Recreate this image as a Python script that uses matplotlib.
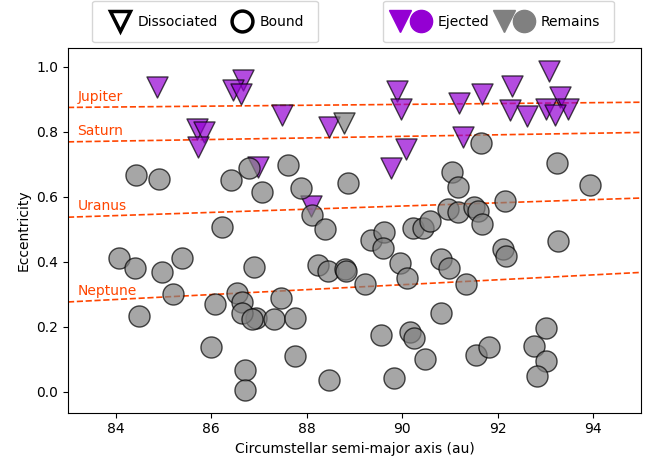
import matplotlib
matplotlib.use("Agg")
import matplotlib.pyplot as plt
from matplotlib.lines import Line2D
from matplotlib.legend_handler import HandlerTuple

# Dissociated systems whose planet was ejected (semi-major axis in au, eccentricity)
ejected_a = [84.87, 86.67, 86.46, 86.62, 85.70, 85.85, 85.72, 86.97, 87.48, 88.46,
             88.08, 89.90, 89.98, 90.08, 89.76, 91.18, 91.68, 92.29, 93.08, 91.28,
             92.26, 92.62, 93.30, 93.01, 93.48, 93.19]
ejected_e = [0.937, 0.958, 0.928, 0.917, 0.809, 0.798, 0.754, 0.693, 0.852, 0.816,
             0.570, 0.927, 0.870, 0.747, 0.687, 0.889, 0.917, 0.940, 0.986, 0.783,
             0.867, 0.850, 0.906, 0.870, 0.870, 0.852]

# Dissociated systems whose planet remains
remain_diss_a = [88.79]
remain_diss_e = [0.827]

# Bound systems whose planet remains
bound_a = [84.42, 84.90, 86.42, 86.79, 87.06, 86.23, 87.60, 87.87, 88.86, 88.10,
           88.39, 91.04, 91.65, 91.16, 93.25, 93.93, 92.15, 90.96, 91.16, 91.51,
           91.58, 91.68, 89.35, 89.62, 89.59, 90.22, 90.43, 90.58, 89.96, 90.09,
           90.82, 90.97, 88.23, 88.44, 88.81, 88.83, 89.22, 87.46, 86.94, 87.32,
           87.76, 87.76, 88.46, 89.55, 90.16, 90.24, 90.48, 89.83, 93.26, 92.10,
           92.17, 91.33, 90.82, 93.02, 92.76, 93.01, 92.83, 91.54, 91.81, 84.07,
           84.40, 84.96, 85.38, 85.20, 84.49, 86.08, 86.53, 86.64, 86.64, 86.85,
           86.00, 86.71, 86.71, 86.90]
bound_e = [0.667, 0.654, 0.651, 0.687, 0.615, 0.507, 0.698, 0.628, 0.641, 0.543,
           0.502, 0.677, 0.764, 0.631, 0.705, 0.636, 0.586, 0.563, 0.553, 0.567,
           0.557, 0.515, 0.466, 0.492, 0.441, 0.505, 0.505, 0.525, 0.397, 0.350,
           0.409, 0.381, 0.389, 0.371, 0.378, 0.371, 0.331, 0.289, 0.227, 0.224,
           0.226, 0.111, 0.036, 0.173, 0.184, 0.164, 0.100, 0.043, 0.464, 0.440,
           0.417, 0.332, 0.242, 0.196, 0.140, 0.093, 0.047, 0.114, 0.137, 0.411,
           0.381, 0.368, 0.411, 0.301, 0.232, 0.271, 0.303, 0.276, 0.243, 0.224,
           0.137, 0.068, 0.006, 0.384]

# Critical eccentricity lines for each giant planet
planet_names = ["Jupiter", "Saturn", "Uranus", "Neptune"]
line_a = [83.0, 95.0]
planet_line_e = [[0.875, 0.891], [0.769, 0.798], [0.537, 0.596], [0.276, 0.367]]
label_a = 83.2
label_e = [0.907, 0.802, 0.571, 0.309]

line_color = "orangered"
purple = "darkviolet"
grey = "grey"

fig = plt.figure(figsize=(6.56, 4.61), dpi=100)
ax = fig.add_axes([68 / 656, 48.3 / 461, 573 / 656, 364.7 / 461])

for name, ev, ly in zip(planet_names, planet_line_e, label_e):
    ax.plot(line_a, ev, ls="--", color=line_color, lw=1.2, zorder=1)
    ax.text(label_a, ly, name, color=line_color, fontsize=10, va="center", ha="left")

size = 230
ax.scatter(ejected_a, ejected_e, s=size, marker="v", c=purple, alpha=0.7,
           edgecolors="k", linewidths=1, zorder=2)
ax.scatter(remain_diss_a, remain_diss_e, s=size, marker="v", c=grey, alpha=0.7,
           edgecolors="k", linewidths=1, zorder=2)
ax.scatter(bound_a, bound_e, s=size, marker="o", c=grey, alpha=0.7,
           edgecolors="k", linewidths=1, zorder=3)

ax.set_xlim(83, 95)
ax.set_ylim(-0.065, 1.058)
ax.set_xlabel("Circumstellar semi-major axis (au)")
ax.set_ylabel("Eccentricity")

# Legend for the state of the binary
h_diss = Line2D([], [], marker="v", ls="none", mfc="none", mec="k", mew=2.5, ms=15)
h_bound = Line2D([], [], marker="o", ls="none", mfc="none", mec="k", mew=2.5, ms=15)
leg1 = ax.legend([h_diss, h_bound], ["Dissociated", "Bound"], ncol=2,
                 loc="lower center", bbox_to_anchor=(0.239, 1.0),
                 borderpad=1.0, handlelength=2.0, handletextpad=0.3,
                 columnspacing=0.7, borderaxespad=0.4)
ax.add_artist(leg1)

# Legend for the fate of the planet
ej_tri = Line2D([], [], marker="v", ls="none", color=purple, ms=16)
ej_circ = Line2D([], [], marker="o", ls="none", color=purple, ms=16)
re_tri = Line2D([], [], marker="v", ls="none", color=grey, ms=16)
re_circ = Line2D([], [], marker="o", ls="none", color=grey, ms=16)
ax.legend([(ej_tri, ej_circ), (re_tri, re_circ)], ["Ejected", "Remains"], ncol=2,
          loc="lower center", bbox_to_anchor=(0.751, 1.0),
          handler_map={tuple: HandlerTuple(ndivide=None)},
          borderpad=1.0, handlelength=2.0, handletextpad=0.9,
          columnspacing=0.8, borderaxespad=0.4)

fig.savefig("out.png", dpi=100)
